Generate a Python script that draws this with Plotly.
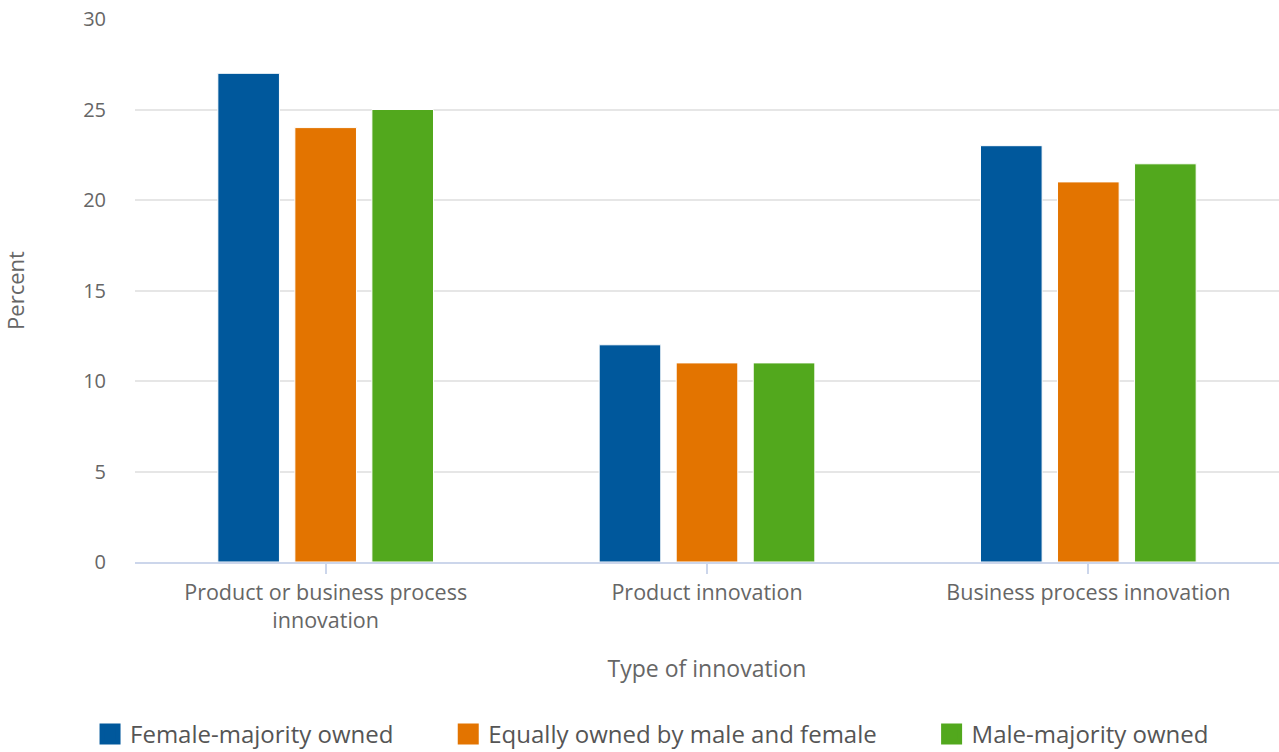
import plotly.graph_objects as go

categories = ["Product or business process<br>innovation", "Product innovation", "Business process innovation"]
series_names = ["Female-majority owned", "Equally owned by male and female", "Male-majority owned"]
female_majority = [27, 12, 23]
equally_owned = [24, 11, 21]
male_majority = [25, 11, 22]
colors = ["#00589c", "#e37400", "#52a81d"]
y_ticks = [0, 5, 10, 15, 20, 25, 30]

# extra spacing after every legend entry except the last
pad = "\u00a0" * 8
legend_labels = [n + pad for n in series_names[:-1]] + [series_names[-1]]

fig = go.Figure()
for name, label, vals, col in zip(series_names, legend_labels,
                                  [female_majority, equally_owned, male_majority], colors):
    fig.add_trace(go.Bar(
        x=categories, y=vals, name=name, legendgroup=name, showlegend=False,
        marker=dict(color=col, line=dict(color="#ffffff", width=1)),
        hovertemplate="%{y}<extra>" + name + "</extra>",
    ))
    # larger square swatch for the legend entry
    fig.add_trace(go.Scatter(
        x=[None], y=[None], mode="markers", name=label, legendgroup=name,
        marker=dict(symbol="square", size=16, color=col, line=dict(color=col, width=5)),
    ))

font = "Open Sans"
fig.update_layout(
    width=1279, height=752,
    margin=dict(l=135, r=0, t=19, b=190, autoexpand=False),
    paper_bgcolor="#ffffff", plot_bgcolor="#ffffff",
    barmode="group", bargap=0.394, bargroupgap=0.2,
    font=dict(family=font, color="#666666", size=21),
    legend=dict(orientation="h", x=-0.0393, xanchor="left", y=-0.276, yanchor="top",
                font=dict(size=24, color="#555555"), itemwidth=30, tracegroupgap=0),
    xaxis=dict(
        title=dict(text="Type of innovation", font=dict(size=23, color="#666666"), standoff=28),
        showline=True, linecolor="#ccd6eb", linewidth=2,
        ticks="outside", tickcolor="#ccd6eb", ticklen=10, tickwidth=2,
        tickfont=dict(size=21.5, color="#666666"),
        showgrid=False, automargin=False,
    ),
    yaxis=dict(
        title=dict(text="Percent", font=dict(size=22, color="#666666"), standoff=52),
        range=[0, 30], tickvals=y_ticks,
        showgrid=True, gridcolor="#e6e6e6", gridwidth=2,
        zeroline=False, showline=False, automargin=False,
        tickfont=dict(size=20, color="#666666"), ticklabelstandoff=28,
    ),
)

fig.write_html("out.html")
